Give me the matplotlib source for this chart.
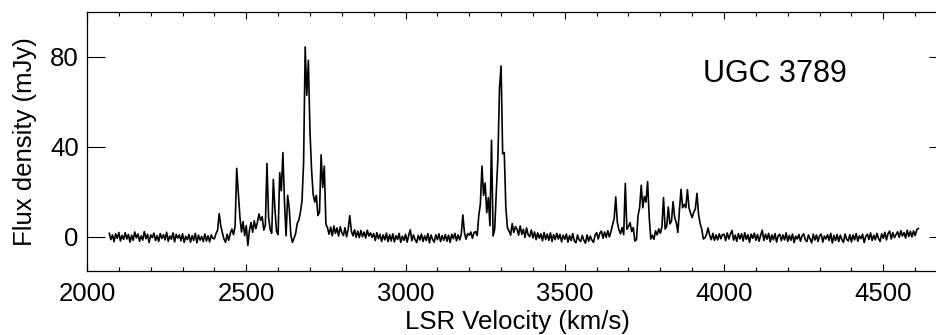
import numpy as np
import matplotlib
matplotlib.use("Agg")
import matplotlib.pyplot as plt
from matplotlib.ticker import MultipleLocator

plt.rcParams['font.family'] = ['Liberation Sans', 'DejaVu Sans']

# channel grid (km/s)
v_start = 2070
v_step = 5

# flux density (mJy)
flux_2070_2395 = [
    1.6, -1.2, 0.9, -2.1, 1.4, -0.6, 2.0, -1.8, 0.7, -1.1,
    1.9, -0.9, 1.1, -2.3, 0.8, -1.5, 2.2, -0.4, 1.3, -1.9,
    0.5, -1.4, 2.4, -0.8, 1.2, -2.5, 0.9, -0.3, 1.7, -1.6,
    0.6, -2.0, 1.5, -0.7, 1.0, -1.3, 2.1, -1.9, 0.4, -1.0,
    1.8, -2.2, 1.2, -0.5, 0.9, -1.7, 1.4, -2.4, 0.3, -1.2,
    1.1, -2.3, 0.6, -1.5, 1.6, -2.6, 0.8, -1.4, 0.2, -2.1,
    1.3, -1.8, 0.5, -2.2, 0.9, -0.6,
]
flux_2400_2845 = [
    -0.8, 1.5, 3.0, 10.4, 5.0, 1.8, -0.9, -2.4, 1.2, -1.5,
    1.6, 3.5, 1.0, 4.8, 30.5, 19.5, 9.0, 2.2, 6.8, 0.6,
    5.0, -3.8, 3.0, 6.4, 2.1, 7.2, 3.6, 6.5, 10.2, 7.4,
    9.0, 3.0, 5.5, 32.7, 9.0, 3.3, 1.6, 25.6, 12.5, 2.5,
    1.0, 28.6, 20.5, 37.5, 15.5, 0.5, 18.5, 12.5, 0.8, -2.4,
    -0.6, 1.5, 6.0, 7.5, 11.0, 16.0, 33.0, 84.5, 63.0, 78.5,
    47.0, 30.0, 19.0, 15.5, 18.5, 9.5, 11.0, 36.5, 22.0, 31.5,
    5.8, 4.0, 1.2, 4.4, 0.5, 4.9, 1.6, 4.0, 0.4, 4.5,
    1.9, 0.6, 4.1, 0.1, 3.4, 9.5, 2.6, 0.5, 3.2, -0.2,
]
flux_2850_3195 = [
    2.6, -0.3, 2.9, 0.1, 2.2, -0.5, 3.0, 0.4, 1.8, -0.2,
    1.5, -1.6, 1.9, -0.8, 1.2, -2.0, 0.9, -1.3, 1.7, -2.1,
    1.0, -1.8, 1.4, -2.2, 0.6, -1.1, 1.6, -2.4, 0.3, -1.5,
    1.2, -2.3, 0.8, 3.2, -1.7, 0.9, -1.2, -2.5, 0.7, -1.4,
    1.3, -2.0, 0.5, -1.6, 1.5, -2.6, 0.9, -1.1, -2.3, 1.0,
    -1.2, 1.4, -2.1, 0.6, -1.5, 1.1, -1.9, 0.8, -2.4, 1.2,
    -0.8, 1.6, -1.7, 0.9, -1.3, 1.2, 9.8, 1.9, -1.0, 1.5,
]
flux_3200_3345 = [
    0.8, 2.2, -0.6, 1.9, 2.4, 0.6, 9.5, 14.7, 31.5, 18.5,
    24.0, 10.8, 17.5, 5.0, 43.0, 0.4, 3.5, 20.0, 35.0, 66.0,
    76.0, 37.0, 37.5, 13.0, 4.0, 2.7, 0.8, 5.9, 2.0, 4.6,
]
flux_3350_3645 = [
    3.6, 0.8, 4.9, 1.2, 3.4, -0.2, 4.0, 1.0, 0.1, 3.1,
    -0.4, 2.2, -1.2, 1.8, -0.6, 1.4, -1.7, 2.0, -1.1, 1.3,
    -1.5, 1.8, -2.0, 1.0, -1.2, 1.6, -0.9, 1.2, -2.2, 0.8,
    -1.0, 1.3, -2.3, 0.6, -1.6, 1.5, -1.8, -2.6, 0.9, -1.3,
    -2.0, 0.7, -1.5, -2.8, 0.9, -1.9, 0.4, -1.4, -2.4, 0.8,
    1.9, -0.9, 1.7, 2.6, -0.6, 2.2, -0.2, 2.8, 0.0, 2.3,
]
flux_3650_3995 = [
    5.5, 8.0, 17.8, 6.5, 3.2, 1.4, 4.2, 1.0, 23.8, 3.4,
    4.6, 6.4, 2.4, 4.2, -1.8, -1.2, 9.5, 13.0, 23.0, 13.0,
    18.0, 15.5, 24.6, 9.0, -0.9, 0.8, -1.0, 2.7, 0.9, 3.6,
    1.6, 4.5, 17.5, 3.5, 4.8, 13.3, 5.8, 7.0, 15.7, 8.6,
    6.5, 2.0, 12.0, 21.2, 13.0, 14.5, 13.0, 21.0, 13.0, 10.5,
    8.6, 11.0, 12.5, 19.4, 10.0, 6.0, 3.5, -0.9, -0.4, 1.2,
    4.0, 0.6, -1.2, 1.6, -1.5, 0.9, -1.3, 1.4, -0.8, 1.0,
]
flux_4000_4610 = [
    1.2, -1.6, 1.8, -0.9, 1.3, 2.9, -1.4, 0.8, -2.0, 1.5,
    -0.9, 1.4, -1.8, 1.9, -1.1, 1.0, -2.4, 1.3, -0.6, 1.7,
    -1.5, 1.1, -1.9, 0.8, 3.0, -1.6, 1.2, -1.0, 1.6, -2.2,
    0.9, -1.3, 1.5, -2.3, 0.6, 1.2, -1.7, 0.9, -1.3, 1.8,
    -2.0, 0.7, -1.5, 1.3, -2.5, 0.4, -0.9, 1.1, -1.9, 0.5,
    1.4, -1.2, -2.1, 0.9, -0.8, -2.6, 1.2, -1.4, 0.9, -2.0,
    0.5, 1.3, -2.3, 0.4, -0.9, 1.0, -1.6, 1.6, -2.7, 0.7,
    -1.6, 1.1, -2.1, 0.8, -1.2, -2.4, 1.3, -1.0, -1.8, 1.0,
    -2.2, 0.9, -1.3, 1.5, -1.9, 0.5, -0.8, 1.2, -2.5, 0.3,
    1.2, -1.1, 1.8, -1.6, 0.8, -1.3, 1.6, -0.7, -2.0, 1.4,
    -0.6, 2.1, -1.3, 1.5, 2.6, -0.9, 1.9, -0.3, 1.1, 2.3,
    -0.2, 2.8, 0.4, 2.0, -0.5, 3.0, 0.2, 2.5, 0.0, 2.7,
    0.6, 3.1, 3.8,
]

flux = np.array(flux_2070_2395 + flux_2400_2845 + flux_2850_3195 + flux_3200_3345
                + flux_3350_3645 + flux_3650_3995 + flux_4000_4610)
velocity = v_start + v_step * np.arange(len(flux))

fig = plt.figure(figsize=(9.36, 3.35), dpi=100)
ax = fig.add_axes([87 / 936, 1 - 270.7 / 335, 860 / 936, 258.7 / 335])

ax.plot(velocity, flux, color='black', lw=1.2)

ax.set_xlim(2000, 4700)
ax.set_ylim(-15, 100)
ax.xaxis.set_major_locator(MultipleLocator(500))
ax.xaxis.set_minor_locator(MultipleLocator(100))
ax.set_yticks([0, 40, 80])

ax.tick_params(axis='x', which='major', direction='in', length=5, width=0.8,
               top=True, labelsize=18.5, pad=8)
ax.tick_params(axis='x', which='minor', direction='in', length=3, width=0.8, top=True)
ax.tick_params(axis='y', which='major', direction='in', length=13, width=0.8,
               right=True, labelsize=18.5, pad=6)
for s in ax.spines.values():
    s.set_linewidth(0.9)

ax.set_xlabel('LSR Velocity (km/s)', fontsize=18.5)
ax.set_ylabel('Flux density (mJy)', fontsize=18.5)
ax.xaxis.set_label_coords(0.5, -0.152)
ax.yaxis.set_label_coords(-0.058, 0.5)

ax.text(4161, 72.5, 'UGC 3789', fontsize=22, ha='center', va='center')

fig.savefig('out.png', dpi=100)
